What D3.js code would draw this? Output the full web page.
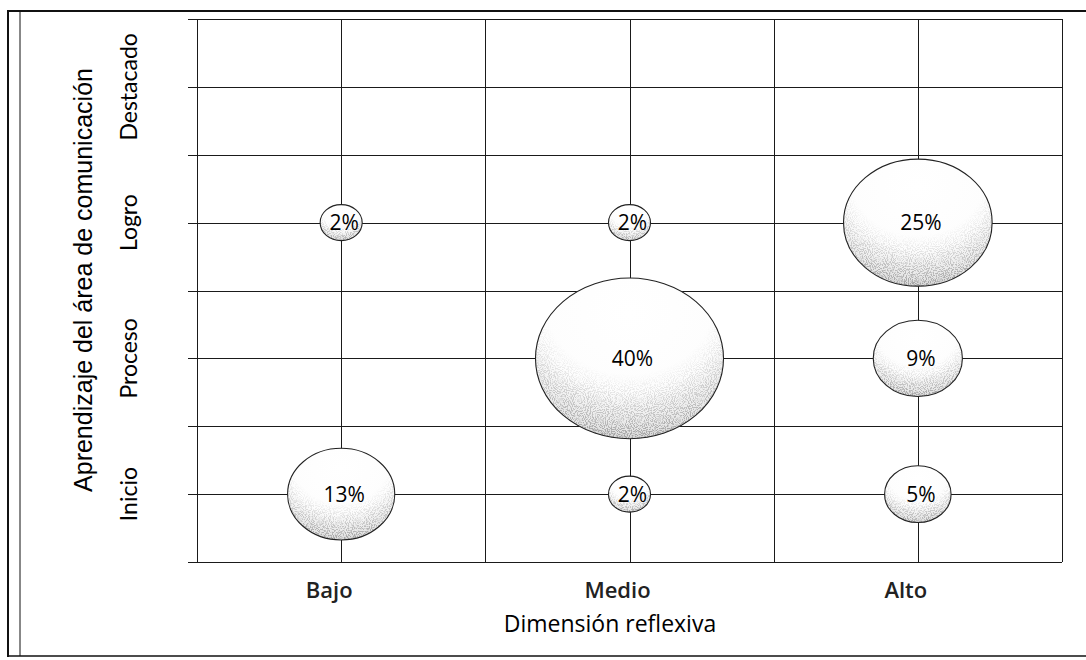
<!DOCTYPE html>
<html>
<head>
<meta charset="utf-8">
<script src="https://cdn.jsdelivr.net/npm/d3@7"></script>
<style>
  html, body { margin: 0; padding: 0; background: #fff; }
  svg { display: block; }
</style>
</head>
<body>
<svg id="chart" width="1086" height="660"></svg>
<script>
// ---- data ----
const xCategories = ["Bajo", "Medio", "Alto"];
const yCategories = ["Inicio", "Proceso", "Logro", "Destacado"];
const bubbleX = ["Bajo", "Bajo", "Medio", "Medio", "Medio", "Alto", "Alto", "Alto"];
const bubbleY = ["Inicio", "Logro", "Inicio", "Proceso", "Logro", "Inicio", "Proceso", "Logro"];
const bubbleValues = [13, 2, 2, 40, 2, 5, 9, 25];
const xTitle = "Dimensión reflexiva";
const yTitle = "Aprendizaje del área de comunicación";

const svg = d3.select("#chart");
const W = 1086, H = 660;
const plot = { left: 197, right: 1062, top: 19, bottom: 562 };

const x = d3.scaleLinear().domain([0.5, xCategories.length + 0.5]).range([plot.left, plot.right]);
const y = d3.scaleLinear().domain([0.5, yCategories.length + 0.5]).range([plot.bottom, plot.top]);
const r = d3.scaleSqrt().domain([0, 40]).range([0, 94]);
const flat = 0.855;

const xPos = c => xCategories.indexOf(c) + 1;
const yPos = c => yCategories.indexOf(c) + 1;

// ---- defs ----
const defs = svg.append("defs");
const base = defs.append("radialGradient").attr("id", "baseGrad")
  .attr("cx", "50%").attr("cy", "22%").attr("r", "82%");
base.append("stop").attr("offset", "0").attr("stop-color", "#ffffff");
base.append("stop").attr("offset", "0.6").attr("stop-color", "#fdfdfd");
base.append("stop").attr("offset", "0.88").attr("stop-color", "#e6e6e6");
base.append("stop").attr("offset", "1").attr("stop-color", "#c8c8c8");

const shade = defs.append("radialGradient").attr("id", "shadeGrad")
  .attr("cx", "50%").attr("cy", "15%").attr("r", "90%");
shade.append("stop").attr("offset", "0").attr("stop-color", "#000").attr("stop-opacity", 0);
shade.append("stop").attr("offset", "0.5").attr("stop-color", "#000").attr("stop-opacity", 0);
shade.append("stop").attr("offset", "0.8").attr("stop-color", "#000").attr("stop-opacity", 0.5);
shade.append("stop").attr("offset", "1").attr("stop-color", "#000").attr("stop-opacity", 0.95);

const filt = defs.append("filter").attr("id", "stipple")
  .attr("x", "-5%").attr("y", "-5%").attr("width", "110%").attr("height", "110%");
filt.append("feTurbulence").attr("type", "fractalNoise").attr("baseFrequency", 0.95)
  .attr("numOctaves", 1).attr("seed", 3).attr("result", "noise");
filt.append("feColorMatrix").attr("in", "noise").attr("type", "matrix")
  .attr("values", "0 0 0 0 0.3  0 0 0 0 0.3  0 0 0 0 0.3  7 0 0 0 -3.2").attr("result", "dots");
filt.append("feComposite").attr("in", "dots").attr("in2", "SourceGraphic").attr("operator", "in");

// ---- frame ----
const frame = svg.append("g").attr("stroke", "#111").attr("fill", "none");
frame.append("line").attr("x1", 8).attr("x2", 8).attr("y1", 10).attr("y2", 657).attr("stroke-width", 2);
frame.append("line").attr("x1", 20).attr("x2", 20).attr("y1", 11).attr("y2", 656).attr("stroke-width", 1);
frame.append("line").attr("x1", 7).attr("x2", W).attr("y1", 11).attr("y2", 11).attr("stroke-width", 2);
frame.append("line").attr("x1", 7).attr("x2", W).attr("y1", 656).attr("y2", 656).attr("stroke-width", 1.5);

// ---- grid ----
const grid = svg.append("g").attr("stroke", "#1a1a1a").attr("stroke-width", 1).attr("shape-rendering", "crispEdges");
const yGridVals = d3.range(0.5, yCategories.length + 0.51, 0.5);
const xGridVals = d3.range(0.5, xCategories.length + 0.51, 0.5);
grid.selectAll("line.h").data(yGridVals).join("line").attr("class", "h")
  .attr("x1", plot.left - 9).attr("x2", plot.right)
  .attr("y1", d => Math.round(y(d)) + 0.5).attr("y2", d => Math.round(y(d)) + 0.5);
grid.selectAll("line.v").data(xGridVals).join("line").attr("class", "v")
  .attr("y1", plot.top).attr("y2", plot.bottom)
  .attr("x1", d => Math.round(x(d)) + 0.5).attr("x2", d => Math.round(x(d)) + 0.5);

// ---- bubbles ----
const bubbles = bubbleValues.map((v, i) => ({ v, cx: x(xPos(bubbleX[i])), cy: y(yPos(bubbleY[i])) }));
const bg = svg.append("g");
const node = bg.selectAll("g.b").data(bubbles).join("g").attr("class", "b");
node.append("ellipse")
  .attr("cx", d => d.cx).attr("cy", d => d.cy)
  .attr("rx", d => r(d.v)).attr("ry", d => r(d.v) * flat)
  .attr("fill", "url(#baseGrad)");
node.append("ellipse")
  .attr("cx", d => d.cx).attr("cy", d => d.cy)
  .attr("rx", d => r(d.v)).attr("ry", d => r(d.v) * flat)
  .attr("fill", "url(#shadeGrad)").attr("filter", "url(#stipple)");
node.append("ellipse")
  .attr("cx", d => d.cx).attr("cy", d => d.cy)
  .attr("rx", d => r(d.v)).attr("ry", d => r(d.v) * flat)
  .attr("fill", "none").attr("stroke", "#222").attr("stroke-width", 1.1);
node.append("text")
  .attr("x", d => d.cx + 3).attr("y", d => d.cy)
  .attr("dy", "0.36em").attr("text-anchor", "middle")
  .attr("font-family", "'Open Sans', sans-serif").attr("font-size", 21)
  .attr("fill", "#000")
  .text(d => d.v + "%");

// ---- axis labels ----
svg.append("g").selectAll("text").data(xCategories).join("text")
  .attr("x", (d, i) => x(i + 1) - 12).attr("y", 598)
  .attr("text-anchor", "middle")
  .attr("font-family", "'Open Sans', sans-serif").attr("font-size", 22).attr("font-weight", 600)
  .attr("fill", "#222").text(d => d);

svg.append("g").selectAll("text").data(yCategories).join("text")
  .attr("transform", (d, i) => `translate(137,${y(i + 1)}) rotate(-90)`)
  .attr("text-anchor", "middle")
  .attr("font-family", "Lato, sans-serif").attr("font-size", 23)
  .attr("fill", "#000").text(d => d);

svg.append("text")
  .attr("x", 610).attr("y", 632).attr("text-anchor", "middle")
  .attr("font-family", "'Open Sans', sans-serif").attr("font-size", 23)
  .attr("fill", "#000").text(xTitle);

svg.append("text")
  .attr("transform", `translate(92,280) rotate(-90)`)
  .attr("text-anchor", "middle")
  .attr("font-family", "'Liberation Sans Narrow', 'Arial Narrow', sans-serif").attr("font-size", 25)
  .attr("fill", "#000").text(yTitle);
</script>
</body>
</html>
